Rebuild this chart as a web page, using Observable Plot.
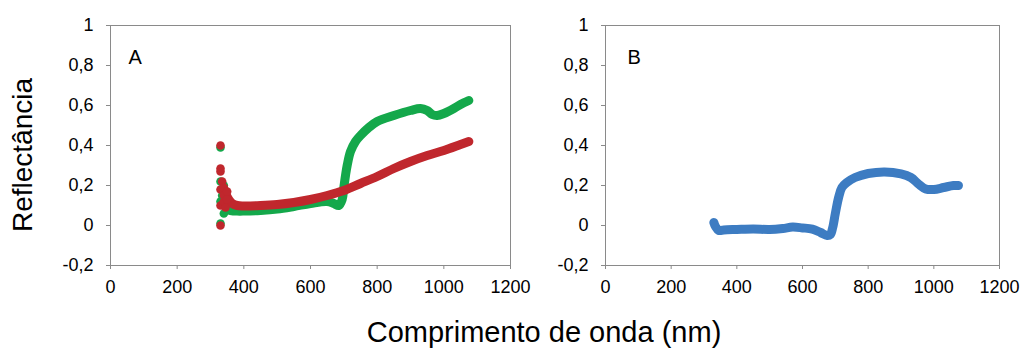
<!DOCTYPE html>
<html>
<head>
<meta charset="utf-8">
<script src="https://cdn.jsdelivr.net/npm/d3@7"></script>
<script src="https://cdn.jsdelivr.net/npm/@observablehq/plot@0.6"></script>
<style>
  body { margin: 0; background: white; }
  #wrap { position: relative; width: 1031px; height: 349px; overflow: hidden; font-family: "Liberation Sans", Arial, sans-serif; }
  #wrap svg { position: absolute; top: 0; }
  .ytitle { position: absolute; left: 23px; top: 155px; transform: translate(-50%, -50%) rotate(-90deg); font-size: 28px; line-height: 28px; white-space: nowrap; }
  .xtitle { position: absolute; left: 294px; width: 500px; top: 318px; text-align: center; font-size: 29px; line-height: 29px; white-space: nowrap; }
</style>
</head>
<body>
<div id="wrap">
  <div class="ytitle">Reflectância</div>
  <div class="xtitle">Comprimento de onda (nm)</div>
</div>
<script>
// ---- data ----
const xTicks = [0, 200, 400, 600, 800, 1000, 1200];
const yTicks = [-0.2, 0, 0.2, 0.4, 0.6, 0.8, 1];

// Panel A, green curve
const greenWl = [350, 360, 380, 400, 450, 500, 550, 600, 650, 670, 685, 695, 700, 705, 710, 720, 735, 750, 775, 800, 850, 900, 930, 950, 965, 980, 1000, 1030, 1050, 1075];
const greenR  = [0.08, 0.075, 0.072, 0.072, 0.075, 0.082, 0.095, 0.11, 0.12, 0.11, 0.10, 0.13, 0.19, 0.25, 0.30, 0.37, 0.42, 0.45, 0.49, 0.52, 0.55, 0.575, 0.585, 0.575, 0.555, 0.55, 0.56, 0.585, 0.605, 0.625];
const greenScatterWl = [330, 330, 330, 330, 335, 340, 340, 340];
const greenScatterR  = [0.39, 0.01, 0.12, 0.22, 0.15, 0.06, 0.10, 0.20];

// Panel A, red curve
const redWl = [345, 355, 365, 380, 400, 450, 500, 550, 600, 650, 700, 750, 800, 850, 900, 950, 1000, 1050, 1075];
const redR  = [0.16, 0.13, 0.11, 0.10, 0.098, 0.10, 0.105, 0.115, 0.13, 0.15, 0.175, 0.21, 0.245, 0.285, 0.32, 0.35, 0.375, 0.405, 0.42];
const redScatterWl = [330, 330, 330, 330, 330, 330, 335, 340, 340, 340, 345, 350, 350];
const redScatterR  = [0.40, 0.285, 0.27, 0.18, 0.10, 0.0, 0.22, 0.19, 0.15, 0.12, 0.09, 0.17, 0.13];

// Panel B, blue curve
const blueWl = [330, 335, 345, 360, 400, 450, 500, 540, 570, 600, 630, 655, 675, 685, 692, 700, 710, 720, 735, 760, 800, 850, 900, 930, 955, 975, 1000, 1030, 1060, 1075];
const blueR  = [0.015, -0.005, -0.025, -0.022, -0.02, -0.018, -0.02, -0.015, -0.008, -0.012, -0.018, -0.035, -0.05, -0.045, -0.01, 0.06, 0.14, 0.19, 0.215, 0.24, 0.26, 0.268, 0.258, 0.24, 0.205, 0.183, 0.18, 0.19, 0.2, 0.2];

const green = "#14a84b", red = "#c0272d", blue = "#3d7cc2";

// ---- helpers ----
const toRows = (wl, r) => wl.map((w, i) => ({wl: w, r: r[i]}));
const fmt = d => String(Math.round(d * 10) / 10).replace(".", ",");
const gray = "#8a8a8a";

function panel(label, labelDx, curveMarks, left, width, marginRight) {
  const svg = Plot.plot({
    width, height: 300,
    marginLeft: 110, marginRight, marginTop: 25, marginBottom: 35,
    x: {domain: [0, 1200]},
    y: {domain: [-0.2, 1]},
    style: {background: "transparent", fontFamily: "'Liberation Sans', Arial, sans-serif", fontSize: "18px", color: "black", overflow: "visible"},
    marks: [
      Plot.frame({stroke: gray}),
      Plot.axisX({ticks: xTicks, tickSize: 4, tickPadding: 11, stroke: gray, fill: "black", fontSize: 18, label: null, tickFormat: d => String(d)}),
      Plot.axisY({ticks: yTicks, tickSize: 4, tickPadding: 13, stroke: gray, fill: "black", fontSize: 18, label: null, tickFormat: fmt}),
      ...curveMarks,
      Plot.text([label], {frameAnchor: "top-left", dx: labelDx, dy: 24, fontSize: 20, fill: "black"})
    ]
  });
  svg.style.left = left + "px";
  document.getElementById("wrap").appendChild(svg);
}

const lineOpts = {x: "wl", y: "r", strokeWidth: 9, strokeLinecap: "round", strokeLinejoin: "round", curve: "catmull-rom"};

panel("A", 18, [
  Plot.line(toRows(greenWl, greenR), {...lineOpts, stroke: green}),
  Plot.dot(toRows(greenScatterWl, greenScatterR), {x: "wl", y: "r", r: 4.3, fill: green}),
  Plot.line(toRows(redWl, redR), {...lineOpts, stroke: red}),
  Plot.dot(toRows(redScatterWl, redScatterR), {x: "wl", y: "r", r: 4.3, fill: red})
], 0, 540, 30);

panel("B", 22, [
  Plot.line(toRows(blueWl, blueR), {...lineOpts, stroke: blue})
], 495, 536, 32);
</script>
</body>
</html>
